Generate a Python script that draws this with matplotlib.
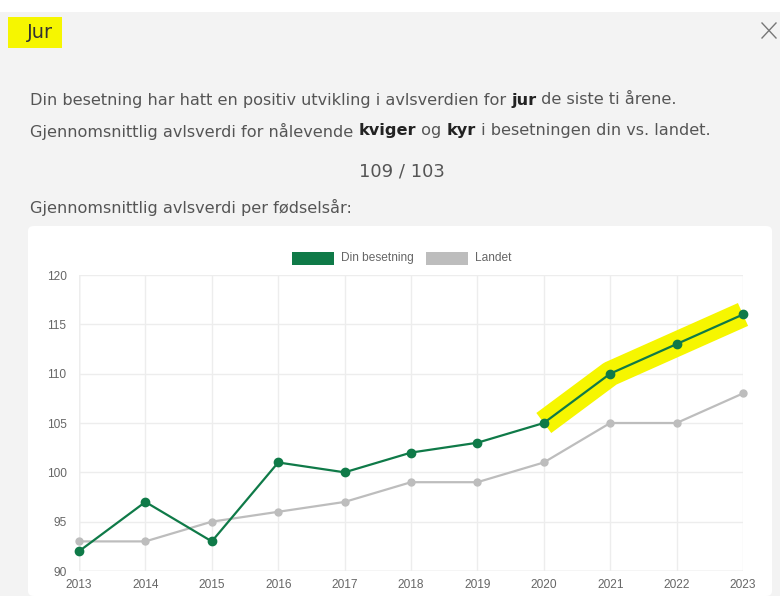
import matplotlib
matplotlib.use("Agg")
import matplotlib.pyplot as plt
from matplotlib.patches import Rectangle, FancyBboxPatch

years = [2013, 2014, 2015, 2016, 2017, 2018, 2019, 2020, 2021, 2022, 2023]
din_besetning = [92, 97, 93, 101, 100, 102, 103, 105, 110, 113, 116]
landet = [93, 93, 95, 96, 97, 99, 99, 101, 105, 105, 108]
highlight_from = 2020

title = "Jur"
line1 = [("Din besetning har hatt en positiv utvikling i avlsverdien for ", False),
         ("jur", True), (" de siste ti årene.", False)]
line2 = [("Gjennomsnittlig avlsverdi for nålevende ", False), ("kviger", True),
         (" og ", False), ("kyr", True), (" i besetningen din vs. landet.", False)]
summary = "109 / 103"
subtitle = "Gjennomsnittlig avlsverdi per fødselsår:"
series_labels = ["Din besetning", "Landet"]

W, H = 780, 596
green = "#0f7a48"
grey = "#bdbdbd"
yellow = "#f6f600"
text_col = "#555555"
ui_font = ["DejaVu Sans"]
chart_font = ["Liberation Sans", "DejaVu Sans"]

fig = plt.figure(figsize=(W / 100, H / 100), dpi=100)
fig.patch.set_facecolor("white")


def fx(px):
    return px / W


def fy(py):
    return 1 - py / H


# modal background and chart card
fig.patches.append(Rectangle((0, 0), 1, fy(12), transform=fig.transFigure,
                             facecolor="#f3f3f3", edgecolor="none", zorder=0))
fig.patches.append(FancyBboxPatch((fx(28), 0), fx(744), fy(226),
                                  boxstyle="round,pad=0,rounding_size=0.008",
                                  transform=fig.transFigure,
                                  facecolor="white", edgecolor="none", zorder=0))

# title with marker highlight
fig.patches.append(Rectangle((fx(8), fy(48)), fx(54), fy(17) - fy(48),
                             transform=fig.transFigure, facecolor=yellow,
                             edgecolor="none", zorder=1))
fig.text(fx(27), fy(33), title, fontsize=14, color="#333333",
         family=ui_font, va="center", zorder=2)

# close cross
fig.add_artist(plt.Line2D([fx(762), fx(776)], [fy(23), fy(38)], color="#777777",
                          lw=1.0, transform=fig.transFigure))
fig.add_artist(plt.Line2D([fx(762), fx(776)], [fy(38), fy(23)], color="#777777",
                          lw=1.0, transform=fig.transFigure))

renderer = fig.canvas.get_renderer()


def rich_line(parts, x0, y, size):
    x = x0
    for s, bold in parts:
        t = fig.text(fx(x), fy(y), s, fontsize=size, color="#222222" if bold else text_col,
                     family=ui_font, weight="bold" if bold else "normal", va="center")
        bb = t.get_window_extent(renderer=renderer)
        x += bb.width


rich_line(line1, 30, 100, 11.6)
rich_line(line2, 30, 131, 11.6)
fig.text(fx(402), fy(171), summary, fontsize=13, color=text_col,
         family=ui_font, ha="center", va="center")
fig.text(fx(30), fy(207), subtitle, fontsize=11.6, color=text_col,
         family=ui_font, va="center")

# legend
for (x_box, x_txt), label, col in zip([(292, 341), (426, 475)], series_labels, [green, grey]):
    fig.patches.append(Rectangle((fx(x_box), fy(265)), fx(42), fy(252) - fy(265),
                                 transform=fig.transFigure, facecolor=col,
                                 edgecolor="none"))
    fig.text(fx(x_txt), fy(258), label, fontsize=8.6, color="#666666",
             family=chart_font, va="center")

# chart
ax = fig.add_axes([fx(79), fy(571), fx(743 - 79), fy(275) - fy(571)], zorder=5)
ax.set_facecolor("none")
ax.set_xlim(years[0], years[-1])
ax.set_ylim(90, 120)
ax.set_xticks(years)
ax.set_yticks(range(90, 121, 5))
ax.grid(True, color="#ededed", lw=1)
ax.set_axisbelow(True)
for s in ax.spines.values():
    s.set_visible(False)
ax.axhline(90, color="#d9d9d9", lw=1, zorder=0.5)
ax.axvline(years[0], color="#d9d9d9", lw=1, zorder=0.5)
ax.tick_params(length=0, labelsize=8.6, colors="#666666")
for lab in ax.get_xticklabels() + ax.get_yticklabels():
    lab.set_family(chart_font)
ax.tick_params(axis="x", pad=6)
ax.tick_params(axis="y", pad=9)

i0 = years.index(highlight_from)
ax.plot(years[i0:], din_besetning[i0:], color=yellow, lw=18,
        solid_capstyle="butt", solid_joinstyle="round", zorder=1, clip_on=False)
ax.plot(years, landet, color=grey, lw=1.6, marker="o", ms=5, zorder=2, clip_on=False)
ax.plot(years, din_besetning, color=green, lw=1.6, marker="o", ms=6, zorder=3,
        clip_on=False)

fig.savefig("out.png", dpi=100)
